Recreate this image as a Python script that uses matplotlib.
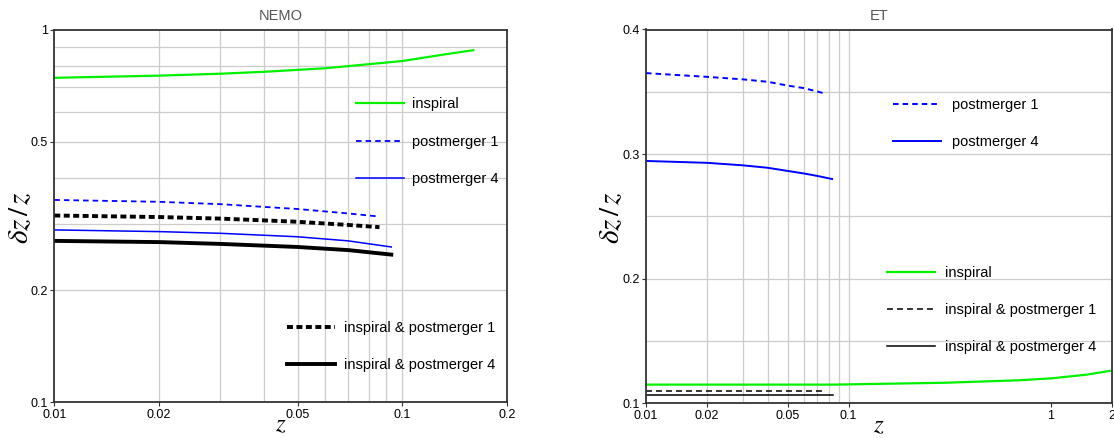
import matplotlib
matplotlib.use('Agg')
import matplotlib.pyplot as plt
from matplotlib.ticker import FixedLocator, NullLocator, FixedFormatter

plt.rcParams['font.family'] = ['Liberation Sans', 'DejaVu Sans']
plt.rcParams['mathtext.fontset'] = 'stix'
plt.rcParams['lines.scale_dashes'] = False

# ---------------- data: NEMO ----------------
nemo_insp_z = [0.01, 0.02, 0.03, 0.04, 0.06, 0.1, 0.133, 0.16]
nemo_insp = [0.742, 0.752, 0.761, 0.770, 0.787, 0.823, 0.858, 0.88]
nemo_pm1_z = [0.01, 0.02, 0.03, 0.05, 0.07, 0.086]
nemo_pm1 = [0.349, 0.345, 0.340, 0.330, 0.321, 0.315]
nemo_ipm1_z = [0.01, 0.02, 0.03, 0.05, 0.07, 0.086]
nemo_ipm1 = [0.317, 0.314, 0.311, 0.305, 0.299, 0.295]
nemo_pm4_z = [0.01, 0.02, 0.03, 0.05, 0.07, 0.093]
nemo_pm4 = [0.290, 0.287, 0.284, 0.278, 0.271, 0.261]
nemo_ipm4_z = [0.01, 0.02, 0.03, 0.05, 0.07, 0.093]
nemo_ipm4 = [0.271, 0.269, 0.266, 0.261, 0.256, 0.249]

# ---------------- data: ET ----------------
et_pm1_z = [0.01, 0.02, 0.03, 0.04, 0.05, 0.06, 0.075]
et_pm1 = [0.365, 0.362, 0.360, 0.358, 0.355, 0.353, 0.349]
et_pm4_z = [0.01, 0.02, 0.03, 0.04, 0.05, 0.06, 0.07, 0.083]
et_pm4 = [0.2945, 0.293, 0.291, 0.289, 0.2865, 0.2845, 0.2825, 0.280]
et_insp_z = [0.01, 0.085, 0.3, 0.7, 1.0, 1.5, 1.95]
et_insp = [0.115, 0.115, 0.1165, 0.1185, 0.120, 0.123, 0.126]
et_ipm1_z = [0.01, 0.04, 0.076]
et_ipm1 = [0.1095, 0.1095, 0.1095]
et_ipm4_z = [0.01, 0.04, 0.0835]
et_ipm4 = [0.1063, 0.1063, 0.1063]

# ticks / labels
nemo_xticks = [0.01, 0.02, 0.05, 0.1, 0.2]
nemo_xticklabels = ['0.01', '0.02', '0.05', '0.1', '0.2']
nemo_yticks = [0.1, 0.2, 0.5, 1]
nemo_yticklabels = ['0.1', '0.2', '0.5', '1']
nemo_xgrid = [0.02, 0.03, 0.04, 0.05, 0.06, 0.07, 0.08, 0.09, 0.1]
nemo_ygrid = [0.2, 0.3, 0.4, 0.5, 0.6, 0.7, 0.8, 0.9]

et_xticks = [0.01, 0.02, 0.05, 0.1, 1, 2]
et_xticklabels = ['0.01', '0.02', '0.05', '0.1', '1', '2']
et_yticks = [0.1, 0.2, 0.3, 0.4]
et_yticklabels = ['0.1', '0.2', '0.3', '0.4']
et_xgrid = [0.02, 0.03, 0.04, 0.05, 0.06, 0.07, 0.08, 0.09, 0.1]
et_ygrid = [0.15, 0.2, 0.25, 0.3, 0.35]

GREEN = '#00f000'
BLUE = '#0000ff'
BLACK = '#000000'
GRID = '#cccccc'
FRAME = '#333333'

W, H = 1114, 438
fig = plt.figure(figsize=(W / 100, H / 100), dpi=100)


def ax_rect(x0, y0, x1, y1):
    return [x0 / W, 1 - y1 / H, (x1 - x0) / W, (y1 - y0) / H]


axL = fig.add_axes(ax_rect(54.3, 29.5, 507, 402.3))
axR = fig.add_axes(ax_rect(646, 29.5, 1112, 403.3))


def style(ax, xticks, xlabels, yticks, ylabels, xgrid, ygrid):
    for g in xgrid:
        ax.axvline(g, color=GRID, lw=0.9, zorder=0)
    for g in ygrid:
        ax.axhline(g, color=GRID, lw=0.9, zorder=0)
    ax.xaxis.set_major_locator(FixedLocator(xticks))
    ax.xaxis.set_major_formatter(FixedFormatter(xlabels))
    ax.yaxis.set_major_locator(FixedLocator(yticks))
    ax.yaxis.set_major_formatter(FixedFormatter(ylabels))
    ax.xaxis.set_minor_locator(NullLocator())
    ax.yaxis.set_minor_locator(NullLocator())
    ax.tick_params(axis='both', direction='out', length=3, width=0.8,
                   color=FRAME, labelsize=9, pad=1.5)
    ax.tick_params(axis='x', pad=2)
    for s in ax.spines.values():
        s.set_color(FRAME)
        s.set_linewidth(1.3)


# ---------------- left: NEMO ----------------
axL.set_xscale('log')
axL.set_yscale('log')
axL.set_xlim(0.01, 0.2)
axL.set_ylim(0.1, 1)
style(axL, nemo_xticks, nemo_xticklabels, nemo_yticks, nemo_yticklabels,
      nemo_xgrid, nemo_ygrid)

lL_insp, = axL.plot(nemo_insp_z, nemo_insp, color=GREEN, lw=1.6, label='inspiral')
lL_pm1, = axL.plot(nemo_pm1_z, nemo_pm1, color=BLUE, lw=1.3, dashes=(4.0, 2.9),
                   label='postmerger 1')
lL_pm4, = axL.plot(nemo_pm4_z, nemo_pm4, color=BLUE, lw=1.1, label='postmerger 4')
lL_ipm1, = axL.plot(nemo_ipm1_z, nemo_ipm1, color=BLACK, lw=2.8, dashes=(4.3, 2.5),
                    label='inspiral & postmerger 1')
lL_ipm4, = axL.plot(nemo_ipm4_z, nemo_ipm4, color=BLACK, lw=2.8,
                    label='inspiral & postmerger 4')

legkw = dict(frameon=False, fontsize=10.5, borderpad=0, borderaxespad=0,
             handlelength=3.3, labelspacing=1.6, loc='center left',
             bbox_transform=fig.transFigure)
leg1 = axL.legend(handles=[lL_insp, lL_pm1, lL_pm4], handletextpad=0.55,
                  bbox_to_anchor=(356 / W, 1 - 141.7 / H), **legkw)
axL.add_artist(leg1)
axL.legend(handles=[lL_ipm1, lL_ipm4], handletextpad=0.65,
           bbox_to_anchor=(286.7 / W, 1 - 346.7 / H), **legkw)

axL.set_title('NEMO', color='#555555', fontsize=10.5, pad=7)

# ---------------- right: ET ----------------
axR.set_xscale('log')
axR.set_xlim(0.01, 2)
axR.set_ylim(0.1, 0.4)
style(axR, et_xticks, et_xticklabels, et_yticks, et_yticklabels,
      et_xgrid, et_ygrid)

lR_pm1, = axR.plot(et_pm1_z, et_pm1, color=BLUE, lw=1.4, dashes=(4.0, 2.9),
                   label='postmerger 1')
lR_pm4, = axR.plot(et_pm4_z, et_pm4, color=BLUE, lw=1.4, label='postmerger 4')
lR_insp, = axR.plot(et_insp_z, et_insp, color=GREEN, lw=1.6, label='inspiral')
lR_ipm1, = axR.plot(et_ipm1_z, et_ipm1, color=BLACK, lw=1.1, dashes=(4.3, 2.9),
                    label='inspiral & postmerger 1')
lR_ipm4, = axR.plot(et_ipm4_z, et_ipm4, color=BLACK, lw=1.1,
                    label='inspiral & postmerger 4')

leg3 = axR.legend(handles=[lR_pm1, lR_pm4], handletextpad=0.75,
                  bbox_to_anchor=(893 / W, 1 - 123.5 / H), **legkw)
axR.add_artist(leg3)
axR.legend(handles=[lR_insp, lR_ipm1, lR_ipm4], handletextpad=0.7,
           bbox_to_anchor=(886.7 / W, 1 - 310.1 / H), **legkw)

axR.set_title('ET', color='#555555', fontsize=10.5, pad=7)

# axis labels
fig.text(280.5 / W, 1 - 424 / H, r'$z$', fontsize=18, ha='center', va='center')
fig.text(879 / W, 1 - 425 / H, r'$z$', fontsize=18, ha='center', va='center')
fig.text(20 / W, 1 - 218 / H, r'$\delta z\,/\,z$', fontsize=21, rotation=90,
         ha='center', va='center')
fig.text(611 / W, 1 - 218 / H, r'$\delta z\,/\,z$', fontsize=21, rotation=90,
         ha='center', va='center')

fig.savefig('out.png', dpi=100)
